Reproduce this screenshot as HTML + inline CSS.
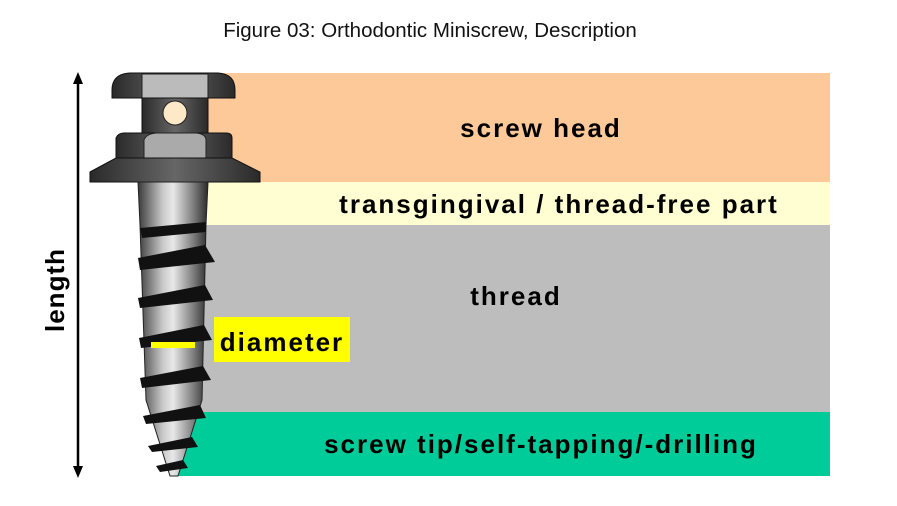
<!DOCTYPE html>
<html><head><meta charset="utf-8"><style>
html,body{margin:0;padding:0;background:#fff;}
body{width:897px;height:501px;overflow:hidden;position:relative;font-family:"Liberation Sans",sans-serif;}
</style></head><body>
<svg width="897" height="501" viewBox="0 0 897 501" xmlns="http://www.w3.org/2000/svg">
<defs>
<linearGradient id="sh" x1="0" x2="1" y1="0" y2="0">
<stop offset="0" stop-color="#3a3a3a"/><stop offset="0.35" stop-color="#c8c8c8"/><stop offset="0.5" stop-color="#e8e8e8"/><stop offset="0.8" stop-color="#7a7a7a"/><stop offset="1" stop-color="#2a2a2a"/>
</linearGradient>
<linearGradient id="dk" x1="0" x2="1" y1="0" y2="0">
<stop offset="0" stop-color="#2a2a2a"/><stop offset="0.5" stop-color="#666"/><stop offset="1" stop-color="#2a2a2a"/>
</linearGradient>
</defs>
<text x="430" y="37" text-anchor="middle" font-size="20.5" fill="#111">Figure 03: Orthodontic Miniscrew, Description</text>
<rect x="208" y="73" width="622" height="109" fill="#fdc999"/>
<rect x="208" y="182" width="622" height="43" fill="#fffdd2"/>
<rect x="200" y="225" width="630" height="187" fill="#bdbdbd"/>
<rect x="175" y="412" width="655" height="64" fill="#00cc99"/>
<g font-weight="bold" font-size="26" fill="#000" text-anchor="middle" letter-spacing="2">
<text x="541" y="137">screw head</text>
<text x="559" y="213">transgingival / thread-free part</text>
<text x="516" y="305">thread</text>
<text x="541" y="453">screw tip/self-tapping/-drilling</text>
</g>
<rect x="214" y="317" width="136" height="45" fill="#ffff00"/>
<text x="282" y="351" text-anchor="middle" font-weight="bold" font-size="26" letter-spacing="2">diameter</text>
<line x1="78" y1="80" x2="78" y2="470" stroke="#000" stroke-width="2.5"/>
<polygon points="78,72 73,84 83,84" fill="#000"/>
<polygon points="78,478 73,466 83,466" fill="#000"/>
<text transform="translate(64,290) rotate(-90)" text-anchor="middle" font-weight="bold" font-size="26" letter-spacing="1">length</text>
<path d="M112,90 Q112,74 130,73 L218,73 Q235,74 235,90 L235,98 L112,98 Z" fill="url(#dk)" stroke="#111"/>
<rect x="142" y="74" width="66" height="24" fill="#bbb" stroke="#222"/>
<rect x="142" y="98" width="66" height="40" fill="url(#dk)" stroke="#111"/>
<circle cx="175" cy="113" r="12" fill="#fde8c8" stroke="#222"/>
<path d="M116,138 Q118,133 124,133 L226,133 Q232,133 232,138 L232,160 L116,160 Z" fill="url(#dk)" stroke="#111"/>
<path d="M144,160 L144,140 Q146,134 156,133 L196,133 Q206,134 206,140 L206,160 Z" fill="#aaa" stroke="#222"/>
<path d="M90,172 L116,158 L232,158 L260,172 L260,182 L90,182 Z" fill="url(#dk)" stroke="#111"/>
<path d="M138,182 L208,182 L206,225 L202,400 L178,476 L170,476 L146,400 L140,225 Z" fill="url(#sh)" stroke="#222"/>
<path d="M140,228 L206,222 L206,232 L142,238 Z" fill="#111"/>
<g fill="#111">
<polygon points="138,258 205,245 215,262 140,270"/>
<polygon points="138,298 205,285 213,300 140,308"/>
<polygon points="139,338 204,325 212,340 141,348"/>
<polygon points="140,378 203,366 211,380 142,388"/>
<polygon points="143,416 200,405 206,418 146,424"/>
<polygon points="148,446 192,437 198,447 152,452"/>
<polygon points="156,466 183,460 188,468 160,472"/>
</g>
<rect x="151" y="342" width="44" height="6" fill="#ffff00"/>
</svg>
</body></html>
